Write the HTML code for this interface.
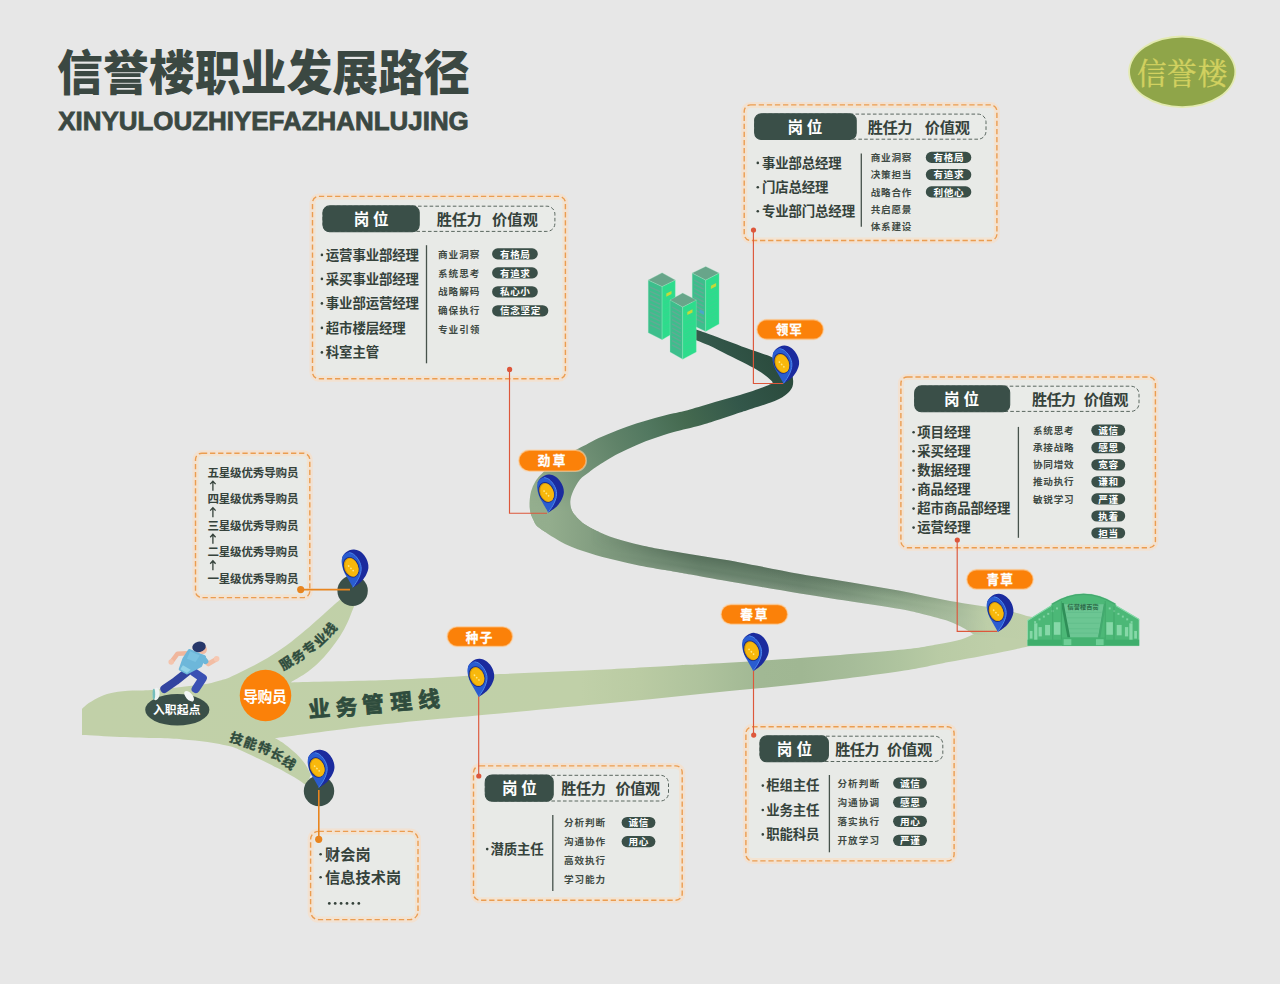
<!DOCTYPE html>
<html lang="zh-CN"><head><meta charset="utf-8"><title>信誉楼职业发展路径</title>
<style>
html,body{margin:0;padding:0;background:#e7e7e7;}
body{width:1280px;height:984px;overflow:hidden;font-family:"Liberation Sans",sans-serif;}
svg{display:block}
.t{font-family:"Liberation Sans","Noto Sans CJK SC",sans-serif;font-weight:700}
</style></head><body>
<svg width="1280" height="984" viewBox="0 0 1280 984">
<rect width="1280" height="984" fill="#e7e7e7"/>
<defs>
<linearGradient id="gA" gradientUnits="userSpaceOnUse" x1="82" y1="0" x2="1035" y2="0">
<stop offset="0" stop-color="#c1d0a8"/><stop offset=".523" stop-color="#c0d0a8"/><stop offset=".585" stop-color="#bacba3"/><stop offset=".648" stop-color="#afc39d"/><stop offset=".711" stop-color="#a1b894"/><stop offset=".755" stop-color="#a0b793"/><stop offset=".806" stop-color="#a6bc99"/><stop offset=".858" stop-color="#afc49f"/><stop offset=".9" stop-color="#b9cba5"/><stop offset=".96" stop-color="#bfcfa9"/></linearGradient>
<linearGradient id="gB1" gradientUnits="userSpaceOnUse" x1="529" y1="0" x2="1035" y2="0">
<stop offset="0" stop-color="#94ae8e"/><stop offset=".04" stop-color="#93ad8d"/><stop offset=".148" stop-color="#7f9a7e"/><stop offset=".24" stop-color="#718b73"/><stop offset=".338" stop-color="#66806a"/><stop offset=".536" stop-color="#6a836d"/><stop offset=".634" stop-color="#7a937a"/><stop offset=".704" stop-color="#8ba488"/><stop offset=".773" stop-color="#97ae90"/><stop offset=".832" stop-color="#a3b899"/><stop offset=".87" stop-color="#b0c3a1"/><stop offset=".905" stop-color="#bdcea8"/><stop offset="1" stop-color="#bfcfa9"/></linearGradient>
<linearGradient id="gB2" gradientUnits="userSpaceOnUse" x1="535" y1="510" x2="790" y2="385">
<stop offset="0" stop-color="#94ae8e"/><stop offset=".06" stop-color="#8fa98a"/><stop offset=".244" stop-color="#6f8f74"/><stop offset=".365" stop-color="#5f8268"/><stop offset=".48" stop-color="#527860"/><stop offset=".62" stop-color="#44694f"/><stop offset=".81" stop-color="#33574a"/><stop offset="1" stop-color="#2b4b3d"/></linearGradient>
<clipPath id="cB"><path d="M1035 617.5C1033.5 617.2 1031.83 617.12 1026 615.7C1020.17 614.28 1012.67 611.43 1000 609C987.33 606.57 966.67 604.13 950 601.1C933.33 598.07 916.67 593.93 900 590.8C883.33 587.67 866.67 585.1 850 582.3C833.33 579.5 818.33 577.32 800 574C781.67 570.68 756.67 565.44 740 562.4C723.33 559.36 712.5 557.8 700 555.75C687.5 553.7 675 551.88 665 550.1C655 548.33 648.33 547.08 640 545.1C631.67 543.12 622.29 540.64 615 538.25C607.71 535.86 601.25 533.04 596.25 530.75C591.25 528.46 588.23 526.73 585 524.5C581.77 522.27 579.1 519.77 576.9 517.4C574.7 515.03 572.9 513.02 571.8 510.3C570.7 507.58 570.07 504.32 570.3 501.1C570.53 497.88 571.58 494.62 573.2 491C574.82 487.38 577.3 482.58 580 479.4C582.7 476.22 586.27 474.25 589.4 471.9C592.52 469.55 594.07 468.27 598.75 465.3C603.43 462.33 611.25 457.45 617.5 454.1C623.75 450.75 630 447.87 636.25 445.2C642.5 442.53 648.75 440.3 655 438.1C661.25 435.9 666.25 434.1 673.75 432C681.25 429.9 692.71 427.5 700 425.5C707.29 423.5 710.83 422.17 717.5 420C724.17 417.83 734.17 414.43 740 412.5C745.83 410.57 747.5 410.02 752.5 408.4C757.5 406.78 765.75 404.28 770 402.8C774.25 401.32 775.71 400.58 778 399.5C780.29 398.42 781.85 397.63 783.75 396.3C785.65 394.97 787.94 393.13 789.4 391.5C790.86 389.87 791.88 388.42 792.5 386.5C793.12 384.58 793.31 382.33 793.1 380C792.89 377.67 792.81 375.17 791.25 372.5C789.69 369.83 786.88 366.5 783.75 364C780.62 361.5 776.25 359.28 772.5 357.5C768.75 355.72 765.62 354.87 761.25 353.3C756.88 351.73 751.88 350.13 746.25 348.1C740.62 346.07 733.75 343.43 727.5 341.1C721.25 338.77 714 336.02 708.75 334.1C703.5 332.18 698.12 330.35 696 329.6L696 340.2C698.12 341.05 703.5 342.88 708.75 345.3C714 347.72 721.25 351.57 727.5 354.7C733.75 357.83 740.62 361.13 746.25 364.1C751.88 367.07 757.19 369.85 761.25 372.5C765.31 375.15 768.68 378.28 770.6 380C772.52 381.72 772.43 382.33 772.8 382.8L772.8 382.8C771.5 383.43 770.47 384.57 765 386.6C759.53 388.63 748.33 392.45 740 395C731.67 397.55 723.33 399.5 715 401.9C706.67 404.3 696.88 407.5 690 409.4C683.12 411.3 679.58 411.87 673.75 413.3C667.92 414.73 661.25 416.28 655 418C648.75 419.72 642.5 421.57 636.25 423.6C630 425.63 623.75 427.78 617.5 430.2C611.25 432.62 603.98 435.68 598.75 438.1C593.52 440.52 590.08 442.67 586.1 444.7C582.12 446.73 579.75 447.65 574.9 450.3C570.05 452.95 562.52 456.7 557 460.6C551.48 464.5 545.43 470.17 541.8 473.7C538.17 477.23 536.97 478.92 535.2 481.8C533.43 484.68 532.12 487.78 531.2 491C530.28 494.22 529.87 497.72 529.7 501.1C529.53 504.48 529.62 508.25 530.2 511.3C530.78 514.35 531.65 516.62 533.2 519.4C534.75 522.18 534.2 523.92 539.5 528C544.8 532.08 556.58 539.69 565 543.9C573.42 548.11 581.67 550.55 590 553.25C598.33 555.95 606.67 558.02 615 560.1C623.33 562.18 631.67 564.08 640 565.75C648.33 567.42 658.33 568.93 665 570.1C671.67 571.27 674.17 571.78 680 572.8C685.83 573.82 690 574.45 700 576.2C710 577.95 723.33 580.43 740 583.3C756.67 586.17 781.67 590.42 800 593.4C818.33 596.38 833.33 598.6 850 601.2C866.67 603.8 887.6 606.78 900 609C912.4 611.22 916.27 612.47 924.4 614.5C932.53 616.53 942.3 618.97 948.8 621.2C955.3 623.43 959.33 625.77 963.4 627.9C967.47 630.03 971.57 632.98 973.2 634L1035 640Z"/></clipPath>
</defs>
<path d="M82 709C83.12 708.02 85.54 705.23 88.75 703.1C91.96 700.98 97.08 698.02 101.25 696.25C105.42 694.48 108.54 693.44 113.75 692.5C118.96 691.56 126.25 691.02 132.5 690.6C138.75 690.18 142.5 690.68 151.25 690C160 689.32 175.62 687.54 185 686.5C194.38 685.46 201.67 684.73 207.5 683.75C213.33 682.77 216.25 681.68 220 680.6C223.75 679.52 225.2 679.38 230 677.3C234.8 675.22 242.55 671.3 248.8 668.1C255.05 664.9 261.25 661.85 267.5 658.1C273.75 654.35 280.05 650.18 286.3 645.6C292.55 641.02 299.38 635.28 305 630.6C310.62 625.92 315.42 621.55 320 617.5C324.58 613.45 328.83 609.55 332.5 606.3C336.17 603.05 340.42 599.38 342 598L357 600C356.35 601.47 354.68 605.05 353.1 608.8C351.52 612.55 349.68 617.92 347.5 622.5C345.32 627.08 342.92 631.72 340 636.3C337.08 640.88 333.75 645.42 330 650C326.25 654.58 321.67 659.83 317.5 663.8C313.33 667.77 309.37 670.77 305 673.8C300.63 676.83 293.58 680.63 291.3 682L291.3 682.4C306.08 682.05 355.22 681.1 380 680.3C404.78 679.5 420 678.63 440 677.6C460 676.57 473.33 675.42 500 674.1C526.67 672.78 570 671.18 600 669.7C630 668.22 663.33 666.12 680 665.2C696.67 664.28 680 665.4 700 664.2C720 663 766.67 660.4 800 658C833.33 655.6 877.23 652.07 900 649.8C922.77 647.53 926.43 646.12 936.6 644.4C946.77 642.68 954.9 641.18 961 639.5C967.1 637.82 971.17 635.17 973.2 634.3L1035 622C1035 625.83 1035 641.17 1035 645L1035 645C1033.63 645.3 1033.03 645.48 1026.8 646.8C1020.57 648.12 1010.6 650.35 997.6 652.9C984.6 655.45 965.07 659.03 948.8 662.1C932.53 665.17 924.8 667.65 900 671.3C875.2 674.95 833.33 680.23 800 684C766.67 687.77 733.33 690.55 700 693.9C666.67 697.25 633.33 700.85 600 704.1C566.67 707.35 526.67 710.95 500 713.4C473.33 715.85 460 716.9 440 718.8C420 720.7 395 723.22 380 724.8C365 726.38 362.92 726.7 350 728.3C337.08 729.9 315 732.77 302.5 734.4C290 736.03 279.58 737.48 275 738.1L275 738.1C276.67 739.15 281.45 741.78 285 744.4C288.55 747.02 292.97 750.57 296.3 753.8C299.63 757.03 302.55 760.27 305 763.8C307.45 767.33 310 773.13 311 775L306 785C303.75 783.55 297.25 779.12 292.5 776.3C287.75 773.48 283.12 771.02 277.5 768.1C271.88 765.18 264.87 761.73 258.8 758.8C252.73 755.87 245.9 752.59 241.1 750.5C236.3 748.41 235.6 747.68 230 746.25C224.4 744.82 215.42 743.04 207.5 741.9C199.58 740.76 190.83 740.03 182.5 739.4C174.17 738.77 167.92 738.52 157.5 738.1C147.08 737.68 132.58 737.42 120 736.9C107.42 736.38 88.33 735.32 82 735Z" fill="url(#gA)"/>
<defs>
<linearGradient id="mV" gradientUnits="userSpaceOnUse" x1="0" y1="494" x2="0" y2="513"><stop offset="0" stop-color="#fff" stop-opacity="0"/><stop offset="1" stop-color="#fff"/></linearGradient>
<mask id="mB1" maskUnits="userSpaceOnUse" x="520" y="490" width="520" height="170"><rect x="520" y="490" width="520" height="170" fill="url(#mV)"/></mask>
<linearGradient id="gX" gradientUnits="userSpaceOnUse" x1="800" y1="573" x2="796.6" y2="593.5"><stop offset="0" stop-color="#1d3326" stop-opacity=".2"/><stop offset=".45" stop-color="#1d3326" stop-opacity="0"/><stop offset=".6" stop-color="#fff" stop-opacity="0"/><stop offset="1" stop-color="#e8f2d8" stop-opacity=".16"/></linearGradient>
<linearGradient id="mH" gradientUnits="userSpaceOnUse" x1="590" y1="0" x2="680" y2="0"><stop offset="0" stop-color="#fff" stop-opacity="0"/><stop offset="1" stop-color="#fff"/></linearGradient>
<linearGradient id="mH2" gradientUnits="userSpaceOnUse" x1="900" y1="0" x2="990" y2="0"><stop offset="0" stop-color="#000" stop-opacity="0"/><stop offset="1" stop-color="#000"/></linearGradient>
<mask id="mX" maskUnits="userSpaceOnUse" x="580" y="500" width="460" height="160"><rect x="580" y="500" width="460" height="160" fill="url(#mH)"/><rect x="580" y="500" width="460" height="160" fill="url(#mH2)"/></mask>
</defs>
<g clip-path="url(#cB)"><rect x="520" y="300" width="300" height="232" fill="url(#gB2)"/><rect x="520" y="490" width="520" height="170" fill="url(#gB1)" mask="url(#mB1)"/><rect x="580" y="500" width="460" height="160" fill="url(#gX)" mask="url(#mX)"/></g>
<g><path d="M1027.58 645.7L1027.58 620.22L1051.09 605.56L1051.64 603.81Q1083.58 583.69 1115.62 603.81L1116.17 605.56L1139.14 619.12L1139.14 645.7Z" fill="#4cb877" stroke="#9ee0b8" stroke-width="1" stroke-opacity=".7"/><polygon points="1063.12,604.14 1104.14,604.14 1098.12,637.5 1069.69,637.5" fill="#6cc693"/><polygon points="1060.94,603.05 1063.67,603.05 1070.23,637.5 1067.5,637.5" fill="#2f8f58"/><rect x="1027.58" y="639.69" width="111.56" height="6.02" fill="#3fae6c"/><rect x="1062.03" y="637.5" width="42.66" height="8.2" fill="#45b271"/><rect x="1063.67" y="639.14" width="7.66" height="6.02" fill="#6fcf97"/><rect x="1095.94" y="639.14" width="7.66" height="6.02" fill="#6fcf97"/><rect x="1029.77" y="630.94" width="2.73" height="7.66" fill="#86d8a8"/><rect x="1134.22" y="630.94" width="2.73" height="7.66" fill="#86d8a8"/><rect x="1034.14" y="623.28" width="3.28" height="16.41" fill="#86d8a8"/><rect x="1129.3" y="623.28" width="3.28" height="16.41" fill="#86d8a8"/><rect x="1038.52" y="627.11" width="3.28" height="9.3" fill="#86d8a8"/><rect x="1124.92" y="627.11" width="3.28" height="9.3" fill="#86d8a8"/><rect x="1045.08" y="624.92" width="4.92" height="10.39" fill="#86d8a8"/><rect x="1116.72" y="624.92" width="4.92" height="10.39" fill="#86d8a8"/><rect x="1053.83" y="622.19" width="6.56" height="12.58" fill="#86d8a8"/><rect x="1106.33" y="622.19" width="6.56" height="12.58" fill="#86d8a8"/><rect x="1034.14" y="621.09" width="1.97" height="1.97" fill="#7fd3a2"/><rect x="1130.61" y="621.09" width="1.97" height="1.97" fill="#7fd3a2"/><rect x="1038.52" y="618.36" width="1.97" height="1.97" fill="#7fd3a2"/><rect x="1126.23" y="618.36" width="1.97" height="1.97" fill="#7fd3a2"/><rect x="1042.89" y="615.62" width="1.97" height="1.97" fill="#7fd3a2"/><rect x="1121.86" y="615.62" width="1.97" height="1.97" fill="#7fd3a2"/><rect x="1047.27" y="612.89" width="1.97" height="1.97" fill="#7fd3a2"/><rect x="1117.48" y="612.89" width="1.97" height="1.97" fill="#7fd3a2"/><rect x="1051.64" y="610.16" width="1.97" height="1.97" fill="#7fd3a2"/><rect x="1113.11" y="610.16" width="1.97" height="1.97" fill="#7fd3a2"/><rect x="1056.01" y="607.42" width="1.97" height="1.97" fill="#7fd3a2"/><rect x="1108.73" y="607.42" width="1.97" height="1.97" fill="#7fd3a2"/><path d="M1027.58 620.66L1051.09 606M1116.17 606L1139.14 619.56" stroke="#86d9a9" stroke-width="1" fill="none"/><path d="M1051.97 604.25Q1083.58 584.56 1115.3 604.25" stroke="#43a86e" stroke-width="1.2" fill="none"/><polygon points="1103.81,603.81 1106,603.81 1100.31,637.5 1098.12,637.5" fill="#43aa6f"/><path d="M1065.74 612.34H1101.66" stroke="#5fbb88" stroke-width=".7"/><path d="M1066.81 617.81H1100.67" stroke="#5fbb88" stroke-width=".7"/><path d="M1067.89 623.28H1099.69" stroke="#5fbb88" stroke-width=".7"/><path d="M1068.97 628.75H1098.7" stroke="#5fbb88" stroke-width=".7"/><path d="M1069.83 633.12H1097.91" stroke="#5fbb88" stroke-width=".7"/><path d="M1052.73 606.55V639.69" stroke="#3fa76a" stroke-width=".9"/><path d="M1113.98 606.55V639.69" stroke="#3fa76a" stroke-width=".9"/><path d="M1061.48 601.09V639.69" stroke="#3fa76a" stroke-width=".9"/><path d="M1105.23 601.09V639.69" stroke="#3fa76a" stroke-width=".9"/><rect x="1067.5" y="603.81" width="31.72" height="5.25" fill="#5dbd87"/></g>
<text class="t" x="1067.58" y="608.56" font-size="6.2" fill="#2c6b48">信誉楼百货</text>
<g stroke="#a6efc9" stroke-width=".7" stroke-opacity=".4"><polygon points="692.2,273.1 705.7,280.1 705.7,331.5 692.2,325.1" fill="#3dbe8c"/><polygon points="705.7,280.1 719.1,273.1 719.1,323.9 705.7,331.5" fill="#2ddc8c"/><polygon points="705.7,266.4 719.1,273.1 705.7,280.1 692.2,273.1" fill="#68a58a"/></g><g stroke="#6ba697" stroke-width="1.4" opacity=".8"><path d="M694.2 280.1L703.7 285.03"/><path d="M694.2 284.3L703.7 289.23"/><path d="M694.2 288.5L703.7 293.43"/><path d="M694.2 292.7L703.7 297.63"/><path d="M694.2 296.9L703.7 301.83"/><path d="M694.2 301.1L703.7 306.03"/><path d="M694.2 305.3L703.7 310.23"/><path d="M694.2 309.5L703.7 314.43"/><path d="M694.2 313.7L703.7 318.63"/><path d="M694.2 317.9L703.7 322.83"/></g><g stroke="#3fd092" stroke-width="1" opacity=".6"><path d="M707.7 286.1L717.1 281.14"/><path d="M707.7 290.3L717.1 285.34"/><path d="M707.7 294.5L717.1 289.54"/><path d="M707.7 298.7L717.1 293.74"/><path d="M707.7 302.9L717.1 297.94"/><path d="M707.7 307.1L717.1 302.14"/><path d="M707.7 311.3L717.1 306.34"/><path d="M707.7 315.5L717.1 310.54"/><path d="M707.7 319.7L717.1 314.74"/><path d="M707.7 323.9L717.1 318.94"/></g><rect x="710.9" y="284.4" width="5.2" height="3.2" fill="#c4d93a" transform="translate(713.5 286) skewY(-27) translate(-713.5 -286)"/><rect x="699.6" y="310.29999999999995" width="4.4" height="3.2" fill="#4aa6c9" transform="translate(701.6 311.9) skewY(27) translate(-701.6 -311.9)"/>
<g stroke="#a6efc9" stroke-width=".7" stroke-opacity=".4"><polygon points="648.2,280.1 662.1,286.5 662.1,339.7 648.2,332.7" fill="#3dbe8c"/><polygon points="662.1,286.5 675.3,280.1 675.3,332.1 662.1,339.7" fill="#2ddc8c"/><polygon points="662.1,272.8 675.3,280.1 662.1,286.5 648.2,280.1" fill="#68a58a"/></g><g stroke="#6ba697" stroke-width="1.4" opacity=".8"><path d="M650.2 287.1L660.1 291.66"/><path d="M650.2 291.3L660.1 295.86"/><path d="M650.2 295.5L660.1 300.06"/><path d="M650.2 299.7L660.1 304.26"/><path d="M650.2 303.9L660.1 308.46"/><path d="M650.2 308.1L660.1 312.66"/><path d="M650.2 312.3L660.1 316.86"/><path d="M650.2 316.5L660.1 321.06"/><path d="M650.2 320.7L660.1 325.26"/><path d="M650.2 324.9L660.1 329.46"/></g><g stroke="#3fd092" stroke-width="1" opacity=".6"><path d="M664.1 292.5L673.3 288.07"/><path d="M664.1 296.7L673.3 292.27"/><path d="M664.1 300.9L673.3 296.47"/><path d="M664.1 305.1L673.3 300.67"/><path d="M664.1 309.3L673.3 304.87"/><path d="M664.1 313.5L673.3 309.07"/><path d="M664.1 317.7L673.3 313.27"/><path d="M664.1 321.9L673.3 317.47"/><path d="M664.1 326.1L673.3 321.67"/><path d="M664.1 330.3L673.3 325.87"/></g><rect x="666.3" y="292.2" width="5.2" height="3.2" fill="#c4d93a" transform="translate(668.9 293.8) skewY(-27) translate(-668.9 -293.8)"/>
<g stroke="#a6efc9" stroke-width=".7" stroke-opacity=".4"><polygon points="670,300 682.7,307 682.7,359.3 670,352" fill="#3dbe8c"/><polygon points="682.7,307 696.3,300 696.3,352 682.7,359.3" fill="#2ddc8c"/><polygon points="682.7,293 696.3,300 682.7,307 670,300" fill="#68a58a"/></g><g stroke="#6ba697" stroke-width="1.4" opacity=".8"><path d="M672 307L680.7 311.8"/><path d="M672 311.2L680.7 316"/><path d="M672 315.4L680.7 320.2"/><path d="M672 319.6L680.7 324.4"/><path d="M672 323.8L680.7 328.6"/><path d="M672 328L680.7 332.8"/><path d="M672 332.2L680.7 337"/><path d="M672 336.4L680.7 341.2"/><path d="M672 340.6L680.7 345.4"/><path d="M672 344.8L680.7 349.6"/></g><g stroke="#3fd092" stroke-width="1" opacity=".6"><path d="M684.7 313L694.3 308.03"/><path d="M684.7 317.2L694.3 312.23"/><path d="M684.7 321.4L694.3 316.43"/><path d="M684.7 325.6L694.3 320.63"/><path d="M684.7 329.8L694.3 324.83"/><path d="M684.7 334L694.3 329.03"/><path d="M684.7 338.2L694.3 333.23"/><path d="M684.7 342.4L694.3 337.43"/><path d="M684.7 346.6L694.3 341.63"/><path d="M684.7 350.8L694.3 345.83"/></g><rect x="687.3" y="310.59999999999997" width="5.2" height="3.2" fill="#c4d93a" transform="translate(689.9 312.2) skewY(-27) translate(-689.9 -312.2)"/>
<rect x="312.5" y="196.4" width="252.9" height="182.4" rx="6.4" fill="#e8eae7" stroke="#fbdcc0" stroke-width="6" stroke-opacity=".55"/>
<rect x="312.5" y="196.4" width="252.9" height="182.4" rx="6.4" fill="none" stroke="#eb9d50" stroke-width="1.4" stroke-dasharray="5.3 2.8"/>
<rect x="323" y="206.2" width="231.9" height="25.2" rx="8" fill="#e9ebe8" stroke="#59665f" stroke-width="1" stroke-dasharray="3.6 2.2"/>
<rect x="323" y="205.9" width="96.2" height="25.8" rx="6.6" fill="#3a4f48" stroke="#3a4f48" stroke-width="1.1"/>
<text class="t" x="353.85" y="224.93" font-size="15.6" letter-spacing="3.5" fill="#fff">岗位</text>
<text class="t" x="436.87" y="224.88" font-size="15.2" letter-spacing="-0.4" fill="#35423b">胜任力</text>
<text class="t" x="491.97" y="224.88" font-size="15.2" letter-spacing="0.2" fill="#35423b">价值观</text>
<circle cx="321.9" cy="254.9" r="1.3" fill="#35423b"/>
<text class="t" x="325.83" y="259.69" font-size="13.4" letter-spacing="-0.1" fill="#35423b">运营事业部经理</text>
<circle cx="321.9" cy="278.9" r="1.3" fill="#35423b"/>
<text class="t" x="325.83" y="283.69" font-size="13.4" letter-spacing="-0.1" fill="#35423b">采买事业部经理</text>
<circle cx="321.9" cy="303.4" r="1.3" fill="#35423b"/>
<text class="t" x="325.83" y="308.19" font-size="13.4" letter-spacing="-0.1" fill="#35423b">事业部运营经理</text>
<circle cx="321.9" cy="327.9" r="1.3" fill="#35423b"/>
<text class="t" x="325.83" y="332.69" font-size="13.4" letter-spacing="-0.1" fill="#35423b">超市楼层经理</text>
<circle cx="321.9" cy="352.4" r="1.3" fill="#35423b"/>
<text class="t" x="325.83" y="357.19" font-size="13.4" letter-spacing="-0.1" fill="#35423b">科室主管</text>
<path d="M426.5 245.2V363.3" stroke="#46524b" stroke-width="1.3"/>
<text class="t" x="437.96" y="257.55" font-size="9.6" letter-spacing="1" fill="#3f4a44">商业洞察</text>
<text class="t" x="437.96" y="276.55" font-size="9.6" letter-spacing="1" fill="#3f4a44">系统思考</text>
<text class="t" x="437.96" y="295.45" font-size="9.6" letter-spacing="1" fill="#3f4a44">战略解码</text>
<text class="t" x="437.96" y="314.45" font-size="9.6" letter-spacing="1" fill="#3f4a44">确保执行</text>
<text class="t" x="437.96" y="333.45" font-size="9.6" letter-spacing="1" fill="#3f4a44">专业引领</text>
<rect x="492.1" y="248.3" width="45.7" height="11.2" rx="5.6" fill="#3a4f48"/>
<text class="t" x="499.96" y="257.55" font-size="9.6" letter-spacing="0.6" fill="#fff">有格局</text>
<rect x="492.1" y="267.3" width="45.7" height="11.2" rx="5.6" fill="#3a4f48"/>
<text class="t" x="499.96" y="276.55" font-size="9.6" letter-spacing="0.6" fill="#fff">有追求</text>
<rect x="492.1" y="286.2" width="45.7" height="11.2" rx="5.6" fill="#3a4f48"/>
<text class="t" x="499.96" y="295.45" font-size="9.6" letter-spacing="0.6" fill="#fff">私心小</text>
<rect x="492.1" y="305.2" width="56.2" height="11.2" rx="5.6" fill="#3a4f48"/>
<text class="t" x="500.11" y="314.45" font-size="9.6" letter-spacing="0.6" fill="#fff">信念坚定</text>
<rect x="744.2" y="104.9" width="252.7" height="135.6" rx="6.4" fill="#e8eae7" stroke="#fbdcc0" stroke-width="6" stroke-opacity=".55"/>
<rect x="744.2" y="104.9" width="252.7" height="135.6" rx="6.4" fill="none" stroke="#eb9d50" stroke-width="1.4" stroke-dasharray="5.3 2.8"/>
<rect x="754.7" y="114.1" width="231.3" height="25.1" rx="8" fill="#e9ebe8" stroke="#59665f" stroke-width="1" stroke-dasharray="3.6 2.2"/>
<rect x="754.7" y="113.8" width="101.5" height="25.7" rx="6.6" fill="#3a4f48" stroke="#3a4f48" stroke-width="1.1"/>
<text class="t" x="787.6" y="132.78" font-size="15.6" letter-spacing="3.55" fill="#fff">岗位</text>
<text class="t" x="867.77" y="132.73" font-size="15.2" letter-spacing="-0.4" fill="#35423b">胜任力</text>
<text class="t" x="924.87" y="132.73" font-size="15.2" letter-spacing="-0.2" fill="#35423b">价值观</text>
<circle cx="757.8" cy="162.9" r="1.3" fill="#35423b"/>
<text class="t" x="761.93" y="167.69" font-size="13.4" letter-spacing="-0.1" fill="#35423b">事业部总经理</text>
<circle cx="757.8" cy="187.2" r="1.3" fill="#35423b"/>
<text class="t" x="761.93" y="191.99" font-size="13.4" letter-spacing="-0.1" fill="#35423b">门店总经理</text>
<circle cx="757.8" cy="211.3" r="1.3" fill="#35423b"/>
<text class="t" x="761.93" y="216.09" font-size="13.4" letter-spacing="-0.1" fill="#35423b">专业部门总经理</text>
<path d="M861.3 153.4V226.7" stroke="#46524b" stroke-width="1.3"/>
<text class="t" x="870.76" y="161.05" font-size="9.6" letter-spacing="0.76" fill="#3f4a44">商业洞察</text>
<text class="t" x="870.76" y="178.35" font-size="9.6" letter-spacing="0.76" fill="#3f4a44">决策担当</text>
<text class="t" x="870.76" y="195.55" font-size="9.6" letter-spacing="0.76" fill="#3f4a44">战略合作</text>
<text class="t" x="870.76" y="212.85" font-size="9.6" letter-spacing="0.76" fill="#3f4a44">共启愿景</text>
<text class="t" x="870.76" y="230.15" font-size="9.6" letter-spacing="0.76" fill="#3f4a44">体系建设</text>
<rect x="925.8" y="151.8" width="45.5" height="11.2" rx="5.6" fill="#3a4f48"/>
<text class="t" x="933.56" y="161.05" font-size="9.6" letter-spacing="0.6" fill="#fff">有格局</text>
<rect x="925.8" y="169.1" width="45.5" height="11.2" rx="5.6" fill="#3a4f48"/>
<text class="t" x="933.56" y="178.35" font-size="9.6" letter-spacing="0.6" fill="#fff">有追求</text>
<rect x="925.8" y="186.3" width="45.5" height="11.2" rx="5.6" fill="#3a4f48"/>
<text class="t" x="933.56" y="195.55" font-size="9.6" letter-spacing="0.6" fill="#fff">利他心</text>
<rect x="900.9" y="377" width="254.5" height="170.7" rx="6.4" fill="#e8eae7" stroke="#fbdcc0" stroke-width="6" stroke-opacity=".55"/>
<rect x="900.9" y="377" width="254.5" height="170.7" rx="6.4" fill="none" stroke="#eb9d50" stroke-width="1.4" stroke-dasharray="5.3 2.8"/>
<rect x="914.7" y="386.2" width="224.3" height="25.2" rx="8" fill="#e9ebe8" stroke="#59665f" stroke-width="1" stroke-dasharray="3.6 2.2"/>
<rect x="914.7" y="385.9" width="95" height="25.8" rx="6.6" fill="#3a4f48" stroke="#3a4f48" stroke-width="1.1"/>
<text class="t" x="944" y="404.93" font-size="15.6" letter-spacing="3.9" fill="#fff">岗位</text>
<text class="t" x="1032.07" y="404.88" font-size="15.2" letter-spacing="-0.8" fill="#35423b">胜任力</text>
<text class="t" x="1083.77" y="404.88" font-size="15.2" letter-spacing="-0.4" fill="#35423b">价值观</text>
<circle cx="913.6" cy="432.2" r="1.3" fill="#35423b"/>
<text class="t" x="917.33" y="436.99" font-size="13.4" letter-spacing="-0.1" fill="#35423b">项目经理</text>
<circle cx="913.6" cy="451.3" r="1.3" fill="#35423b"/>
<text class="t" x="917.33" y="456.09" font-size="13.4" letter-spacing="-0.1" fill="#35423b">采买经理</text>
<circle cx="913.6" cy="470.5" r="1.3" fill="#35423b"/>
<text class="t" x="917.33" y="475.29" font-size="13.4" letter-spacing="-0.1" fill="#35423b">数据经理</text>
<circle cx="913.6" cy="489.6" r="1.3" fill="#35423b"/>
<text class="t" x="917.33" y="494.39" font-size="13.4" letter-spacing="-0.1" fill="#35423b">商品经理</text>
<circle cx="913.6" cy="508.6" r="1.3" fill="#35423b"/>
<text class="t" x="917.33" y="513.39" font-size="13.4" letter-spacing="-0.1" fill="#35423b">超市商品部经理</text>
<circle cx="913.6" cy="527.6" r="1.3" fill="#35423b"/>
<text class="t" x="917.33" y="532.39" font-size="13.4" letter-spacing="-0.1" fill="#35423b">运营经理</text>
<path d="M1018.4 426.9V537.8" stroke="#46524b" stroke-width="1.3"/>
<text class="t" x="1032.96" y="433.85" font-size="9.6" letter-spacing="0.76" fill="#3f4a44">系统思考</text>
<text class="t" x="1032.96" y="451.35" font-size="9.6" letter-spacing="0.76" fill="#3f4a44">承接战略</text>
<text class="t" x="1032.96" y="468.45" font-size="9.6" letter-spacing="0.76" fill="#3f4a44">协同增效</text>
<text class="t" x="1032.96" y="485.45" font-size="9.6" letter-spacing="0.76" fill="#3f4a44">推动执行</text>
<text class="t" x="1032.96" y="502.55" font-size="9.6" letter-spacing="0.76" fill="#3f4a44">敏锐学习</text>
<rect x="1091.3" y="424.6" width="33.9" height="11.2" rx="5.6" fill="#3a4f48"/>
<text class="t" x="1098.36" y="433.85" font-size="9.6" letter-spacing="0.6" fill="#fff">诚信</text>
<rect x="1091.3" y="442.1" width="33.9" height="11.2" rx="5.6" fill="#3a4f48"/>
<text class="t" x="1098.36" y="451.35" font-size="9.6" letter-spacing="0.6" fill="#fff">感恩</text>
<rect x="1091.3" y="459.2" width="33.9" height="11.2" rx="5.6" fill="#3a4f48"/>
<text class="t" x="1098.36" y="468.45" font-size="9.6" letter-spacing="0.6" fill="#fff">宽容</text>
<rect x="1091.3" y="476.2" width="33.9" height="11.2" rx="5.6" fill="#3a4f48"/>
<text class="t" x="1098.36" y="485.45" font-size="9.6" letter-spacing="0.6" fill="#fff">谦和</text>
<rect x="1091.3" y="493.3" width="33.9" height="11.2" rx="5.6" fill="#3a4f48"/>
<text class="t" x="1098.36" y="502.55" font-size="9.6" letter-spacing="0.6" fill="#fff">严谨</text>
<rect x="1091.3" y="510.4" width="33.9" height="11.2" rx="5.6" fill="#3a4f48"/>
<text class="t" x="1098.36" y="519.65" font-size="9.6" letter-spacing="0.6" fill="#fff">执着</text>
<rect x="1091.3" y="527.4" width="33.9" height="11.2" rx="5.6" fill="#3a4f48"/>
<text class="t" x="1098.36" y="536.65" font-size="9.6" letter-spacing="0.6" fill="#fff">担当</text>
<rect x="745.9" y="726.8" width="208.2" height="134.1" rx="6.4" fill="#e8eae7" stroke="#fbdcc0" stroke-width="6" stroke-opacity=".55"/>
<rect x="745.9" y="726.8" width="208.2" height="134.1" rx="6.4" fill="none" stroke="#eb9d50" stroke-width="1.4" stroke-dasharray="5.3 2.8"/>
<rect x="760" y="736.2" width="182.8" height="25.3" rx="8" fill="#e9ebe8" stroke="#59665f" stroke-width="1" stroke-dasharray="3.6 2.2"/>
<rect x="760" y="735.9" width="68.4" height="25.9" rx="6.6" fill="#3a4f48" stroke="#3a4f48" stroke-width="1.1"/>
<text class="t" x="776.85" y="754.98" font-size="15.6" letter-spacing="4" fill="#fff">岗位</text>
<text class="t" x="835.37" y="754.93" font-size="15.2" letter-spacing="-0.7" fill="#35423b">胜任力</text>
<text class="t" x="886.97" y="754.93" font-size="15.2" letter-spacing="-0.2" fill="#35423b">价值观</text>
<circle cx="762.8" cy="785.6" r="1.3" fill="#35423b"/>
<text class="t" x="766.13" y="790.39" font-size="13.4" letter-spacing="-0.1" fill="#35423b">柜组主任</text>
<circle cx="762.8" cy="810" r="1.3" fill="#35423b"/>
<text class="t" x="766.13" y="814.79" font-size="13.4" letter-spacing="-0.1" fill="#35423b">业务主任</text>
<circle cx="762.8" cy="834.4" r="1.3" fill="#35423b"/>
<text class="t" x="766.13" y="839.19" font-size="13.4" letter-spacing="-0.1" fill="#35423b">职能科员</text>
<path d="M829.4 775V852.3" stroke="#46524b" stroke-width="1.3"/>
<text class="t" x="837.46" y="786.75" font-size="9.6" letter-spacing="1.06" fill="#3f4a44">分析判断</text>
<text class="t" x="837.46" y="805.85" font-size="9.6" letter-spacing="1.06" fill="#3f4a44">沟通协调</text>
<text class="t" x="837.46" y="824.95" font-size="9.6" letter-spacing="1.06" fill="#3f4a44">落实执行</text>
<text class="t" x="837.46" y="843.95" font-size="9.6" letter-spacing="1.06" fill="#3f4a44">开放学习</text>
<rect x="893.1" y="777.5" width="33.8" height="11.2" rx="5.6" fill="#3a4f48"/>
<text class="t" x="900.11" y="786.75" font-size="9.6" letter-spacing="0.6" fill="#fff">诚信</text>
<rect x="893.1" y="796.6" width="33.8" height="11.2" rx="5.6" fill="#3a4f48"/>
<text class="t" x="900.11" y="805.85" font-size="9.6" letter-spacing="0.6" fill="#fff">感恩</text>
<rect x="893.1" y="815.7" width="33.8" height="11.2" rx="5.6" fill="#3a4f48"/>
<text class="t" x="900.11" y="824.95" font-size="9.6" letter-spacing="0.6" fill="#fff">用心</text>
<rect x="893.1" y="834.7" width="33.8" height="11.2" rx="5.6" fill="#3a4f48"/>
<text class="t" x="900.11" y="843.95" font-size="9.6" letter-spacing="0.6" fill="#fff">严谨</text>
<rect x="473.5" y="765.9" width="208.7" height="134.4" rx="6.4" fill="#e8eae7" stroke="#fbdcc0" stroke-width="6" stroke-opacity=".55"/>
<rect x="473.5" y="765.9" width="208.7" height="134.4" rx="6.4" fill="none" stroke="#eb9d50" stroke-width="1.4" stroke-dasharray="5.3 2.8"/>
<rect x="485.3" y="775.3" width="183.2" height="25.7" rx="8" fill="#e9ebe8" stroke="#59665f" stroke-width="1" stroke-dasharray="3.6 2.2"/>
<rect x="485.3" y="775" width="67.9" height="26.3" rx="6.6" fill="#3a4f48" stroke="#3a4f48" stroke-width="1.1"/>
<text class="t" x="502.1" y="794.28" font-size="15.6" letter-spacing="3.45" fill="#fff">岗位</text>
<text class="t" x="561.27" y="794.23" font-size="15.2" letter-spacing="-0.5" fill="#35423b">胜任力</text>
<text class="t" x="615.47" y="794.23" font-size="15.2" letter-spacing="-0.4" fill="#35423b">价值观</text>
<circle cx="487.2" cy="849.1" r="1.3" fill="#35423b"/>
<text class="t" x="490.43" y="853.89" font-size="13.4" letter-spacing="-0.1" fill="#35423b">潜质主任</text>
<path d="M552.8 815V891" stroke="#46524b" stroke-width="1.3"/>
<text class="t" x="564.06" y="826.15" font-size="9.6" letter-spacing="0.89" fill="#3f4a44">分析判断</text>
<text class="t" x="564.06" y="845.25" font-size="9.6" letter-spacing="0.89" fill="#3f4a44">沟通协作</text>
<text class="t" x="564.06" y="864.25" font-size="9.6" letter-spacing="0.89" fill="#3f4a44">高效执行</text>
<text class="t" x="564.06" y="883.35" font-size="9.6" letter-spacing="0.89" fill="#3f4a44">学习能力</text>
<rect x="621.6" y="816.9" width="33.8" height="11.2" rx="5.6" fill="#3a4f48"/>
<text class="t" x="628.61" y="826.15" font-size="9.6" letter-spacing="0.6" fill="#fff">诚信</text>
<rect x="621.6" y="836" width="33.8" height="11.2" rx="5.6" fill="#3a4f48"/>
<text class="t" x="628.61" y="845.25" font-size="9.6" letter-spacing="0.6" fill="#fff">用心</text>
<rect x="195.5" y="453.2" width="114.3" height="144.4" rx="6.4" fill="#e8eae7" stroke="#fbdcc0" stroke-width="6" stroke-opacity=".55"/>
<rect x="195.5" y="453.2" width="114.3" height="144.4" rx="6.4" fill="none" stroke="#eb9d50" stroke-width="1.4" stroke-dasharray="5.3 2.8"/>
<text class="t" x="207.4" y="476.97" font-size="11.5" letter-spacing="-0.14" fill="#35423b">五星级优秀导购员</text>
<text class="t" x="207.4" y="503.47" font-size="11.5" letter-spacing="-0.14" fill="#35423b">四星级优秀导购员</text>
<text class="t" x="207.4" y="529.97" font-size="11.5" letter-spacing="-0.14" fill="#35423b">三星级优秀导购员</text>
<text class="t" x="207.4" y="556.47" font-size="11.5" letter-spacing="-0.14" fill="#35423b">二星级优秀导购员</text>
<text class="t" x="207.4" y="582.97" font-size="11.5" letter-spacing="-0.14" fill="#35423b">一星级优秀导购员</text>
<path d="M212.9 490.7V481.3M210.2 484.1L212.9 481.1L215.6 484.1" fill="none" stroke="#35423b" stroke-width="1.3"/>
<path d="M212.9 517.2V507.8M210.2 510.6L212.9 507.6L215.6 510.6" fill="none" stroke="#35423b" stroke-width="1.3"/>
<path d="M212.9 543.8V534.4M210.2 537.2L212.9 534.2L215.6 537.2" fill="none" stroke="#35423b" stroke-width="1.3"/>
<path d="M212.9 570.3V560.9M210.2 563.7L212.9 560.7L215.6 563.7" fill="none" stroke="#35423b" stroke-width="1.3"/>
<rect x="310.6" y="831.4" width="107.4" height="88.2" rx="8" fill="#e8eae7" stroke="#fbdcc0" stroke-width="6" stroke-opacity=".55"/>
<rect x="310.6" y="831.4" width="107.4" height="88.2" rx="8" fill="none" stroke="#eb9d50" stroke-width="1.4" stroke-dasharray="5.3 2.8"/>
<circle cx="320.6" cy="854.2" r="1.3" fill="#35423b"/>
<text class="t" x="324.97" y="859.68" font-size="15.2" letter-spacing="0.1" fill="#35423b">财会岗</text>
<circle cx="320.6" cy="877.2" r="1.3" fill="#35423b"/>
<text class="t" x="324.97" y="882.68" font-size="15.2" letter-spacing="0.1" fill="#35423b">信息技术岗</text>
<circle cx="329.3" cy="903.4" r="1.4" fill="#35423b"/>
<circle cx="335.2" cy="903.4" r="1.4" fill="#35423b"/>
<circle cx="341.1" cy="903.4" r="1.4" fill="#35423b"/>
<circle cx="347" cy="903.4" r="1.4" fill="#35423b"/>
<circle cx="352.9" cy="903.4" r="1.4" fill="#35423b"/>
<circle cx="358.8" cy="903.4" r="1.4" fill="#35423b"/>
<path d="M509.5 369.4L509.5 513.2L547 513.2" fill="none" stroke="#dd573b" stroke-width="1.15"/>
<circle cx="509.6" cy="369.4" r="2.6" fill="#dd573b"/>
<path d="M753.4 230L753.4 383.5L783 383.5" fill="none" stroke="#dd573b" stroke-width="1.15"/>
<circle cx="753.5" cy="230" r="2.6" fill="#dd573b"/>
<path d="M957.2 540L957.2 631.3L997.5 631.3" fill="none" stroke="#dd573b" stroke-width="1.15"/>
<circle cx="957.3" cy="540" r="2.6" fill="#dd573b"/>
<path d="M753.5 668L753.5 735" fill="none" stroke="#dd573b" stroke-width="1.15"/>
<circle cx="753.7" cy="735.1" r="2.6" fill="#dd573b"/>
<path d="M478.7 694L478.7 776" fill="none" stroke="#dd573b" stroke-width="1.15"/>
<circle cx="478.8" cy="776" r="2.6" fill="#dd573b"/>
<circle cx="352.6" cy="590.7" r="15.2" fill="#3a4f48"/>
<circle cx="319" cy="791" r="15.2" fill="#3a4f48"/>
<path d="M300.7 589.6L350 589.6" fill="none" stroke="#e8851f" stroke-width="1.6"/>
<circle cx="300.7" cy="589.6" r="3.6" fill="#e8851f"/>
<path d="M318.8 790L318.8 839.3" fill="none" stroke="#e8851f" stroke-width="1.6"/>
<circle cx="318.7" cy="839.3" r="3.6" fill="#e8851f"/>
<defs><g id="pin">
<path d="M0.3 0.2C1.05 -0.3 3.32 -1.67 4.8 -2.8C6.28 -3.93 7.75 -4.92 9.2 -6.6C10.65 -8.28 12.43 -10.78 13.5 -12.9C14.57 -15.02 15.38 -17.18 15.6 -19.3C15.82 -21.42 15.5 -23.48 14.8 -25.6C14.1 -27.72 12.77 -30.23 11.4 -32C10.03 -33.77 8.28 -35.23 6.6 -36.2C4.92 -37.17 2.97 -37.67 1.3 -37.8C-0.37 -37.93 -1.9 -37.6 -3.4 -37C-4.9 -36.4 -6.5 -35.37 -7.7 -34.2C-8.9 -33.03 -10.12 -30.7 -10.6 -30Z" fill="#1b2b9e"/>
<path d="M0 0C-0.83 -1.45 -3.5 -6.02 -5 -8.7C-6.5 -11.38 -7.98 -13.45 -9 -16.1C-10.02 -18.75 -10.88 -22.22 -11.1 -24.6C-11.32 -26.98 -10.87 -28.92 -10.3 -30.4C-9.73 -31.88 -8.75 -32.75 -7.7 -33.5C-6.65 -34.25 -5.42 -34.98 -4 -34.9C-2.58 -34.82 -0.78 -34.2 0.8 -33C2.38 -31.8 4.27 -29.72 5.5 -27.7C6.73 -25.68 7.83 -23.18 8.2 -20.9C8.57 -18.62 8.32 -16.38 7.7 -14C7.08 -11.62 5.78 -8.93 4.5 -6.6C3.22 -4.27 0.75 -1.1 0 0Z" fill="#2a5cd0"/>
<path d="M0 0C0.75 -1.1 3.22 -4.27 4.5 -6.6C5.78 -8.93 7.08 -11.62 7.7 -14C8.32 -16.38 8.57 -18.62 8.2 -20.9C7.83 -23.18 6.73 -25.68 5.5 -27.7C4.27 -29.72 2.38 -31.8 0.8 -33C-0.78 -34.2 -3.2 -34.58 -4 -34.9" fill="none" stroke="#4c86ec" stroke-width="1"/>
<ellipse cx="-1.7" cy="-20" rx="7.9" ry="10.6" transform="rotate(-22 -1.7 -20)" fill="#182a86"/>
<ellipse cx="-1.6" cy="-20" rx="7" ry="9.8" transform="rotate(-22 -1.6 -20)" fill="#d99c06"/>
<ellipse cx="-1.1" cy="-19.8" rx="6.3" ry="9.1" transform="rotate(-22 -1.1 -19.8)" fill="#f8b80c"/>
<path d="M-4.2-21.4L.4-16.6" stroke="#ffe680" stroke-width="1.7" stroke-linecap="round" stroke-dasharray=".2 3.1"/>
</g></defs>
<use href="#pin" x="352.8" y="587.3"/>
<use href="#pin" x="318.8" y="787.5"/>
<use href="#pin" x="478.6" y="696.6"/>
<use href="#pin" x="753.2" y="670.7"/>
<use href="#pin" x="997.8" y="631.6"/>
<use href="#pin" x="548.2" y="512.4"/>
<use href="#pin" x="783.5" y="383.4"/>
<rect x="447.1" y="626.7" width="65.6" height="19.8" rx="9.9" fill="#fb8109" stroke="#fbd3a8" stroke-width="1.6" stroke-opacity=".6"/>
<text class="t" x="465.86" y="641.59" font-size="12.6" letter-spacing="1.28" fill="#fff" stroke="#fff" stroke-width=".3">种子</text>
<rect x="721" y="604.4" width="66.7" height="19.8" rx="9.9" fill="#fb8109" stroke="#fbd3a8" stroke-width="1.6" stroke-opacity=".6"/>
<text class="t" x="740.36" y="619.39" font-size="12.6" letter-spacing="1.78" fill="#fff" stroke="#fff" stroke-width=".3">春草</text>
<rect x="966.7" y="569.6" width="66.6" height="19.7" rx="9.85" fill="#fb8109" stroke="#fbd3a8" stroke-width="1.6" stroke-opacity=".6"/>
<text class="t" x="986.56" y="584.49" font-size="12.6" letter-spacing="1.08" fill="#fff" stroke="#fff" stroke-width=".3">青草</text>
<rect x="518.7" y="450.1" width="67.5" height="21.1" rx="10.55" fill="#fb8109" stroke="#fbd3a8" stroke-width="1.6" stroke-opacity=".6"/>
<text class="t" x="537.76" y="465.49" font-size="12.6" letter-spacing="2.48" fill="#fff" stroke="#fff" stroke-width=".3">劲草</text>
<rect x="756.8" y="319.6" width="66.7" height="19.8" rx="9.9" fill="#fb8109" stroke="#fbd3a8" stroke-width="1.6" stroke-opacity=".6"/>
<text class="t" x="775.86" y="334.49" font-size="12.6" letter-spacing="0.88" fill="#fff" stroke="#fff" stroke-width=".3">领军</text>
<ellipse cx="177.3" cy="709.8" rx="32.1" ry="15.7" fill="#3a4f48"/>
<text class="t" x="152.89" y="714.28" font-size="11.8" letter-spacing="0.2" fill="#fff">入职起点</text>
<circle cx="265.5" cy="695.5" r="25.75" fill="#fb8109"/>
<text class="t" x="243.23" y="701.62" font-size="14.8" letter-spacing="-0.4" fill="#fff">导购员</text>
<text class="t" transform="translate(319.05 708.4) rotate(-4.9)" x="0" y="8.28" text-anchor="middle" font-size="21.8" fill="#2f4c3d" stroke="#2f4c3d" stroke-width=".78">业</text>
<text class="t" transform="translate(346.4 706.9) rotate(-4.9)" x="0" y="8.28" text-anchor="middle" font-size="21.8" fill="#2f4c3d" stroke="#2f4c3d" stroke-width=".78">务</text>
<text class="t" transform="translate(372.95 703.75) rotate(-4.9)" x="0" y="8.28" text-anchor="middle" font-size="21.8" fill="#2f4c3d" stroke="#2f4c3d" stroke-width=".78">管</text>
<text class="t" transform="translate(401.1 701.4) rotate(-4.9)" x="0" y="8.28" text-anchor="middle" font-size="21.8" fill="#2f4c3d" stroke="#2f4c3d" stroke-width=".78">理</text>
<text class="t" transform="translate(428.85 699) rotate(-4.9)" x="0" y="8.28" text-anchor="middle" font-size="21.8" fill="#2f4c3d" stroke="#2f4c3d" stroke-width=".78">线</text>
<text class="t" transform="translate(286 663) rotate(-33)" x="0" y="5.02" text-anchor="middle" font-size="13.2" fill="#2f4c3d" stroke="#2f4c3d" stroke-width=".37">服</text>
<text class="t" transform="translate(298.1 656.2) rotate(-36)" x="0" y="5.02" text-anchor="middle" font-size="13.2" fill="#2f4c3d" stroke="#2f4c3d" stroke-width=".37">务</text>
<text class="t" transform="translate(309.3 647.6) rotate(-39)" x="0" y="5.02" text-anchor="middle" font-size="13.2" fill="#2f4c3d" stroke="#2f4c3d" stroke-width=".37">专</text>
<text class="t" transform="translate(320.3 639.2) rotate(-43)" x="0" y="5.02" text-anchor="middle" font-size="13.2" fill="#2f4c3d" stroke="#2f4c3d" stroke-width=".37">业</text>
<text class="t" transform="translate(329.8 629.8) rotate(-49)" x="0" y="5.02" text-anchor="middle" font-size="13.2" fill="#2f4c3d" stroke="#2f4c3d" stroke-width=".37">线</text>
<text class="t" transform="translate(236.5 738.6) rotate(18)" x="0" y="5.02" text-anchor="middle" font-size="13.2" fill="#2f4c3d" stroke="#2f4c3d" stroke-width=".37">技</text>
<text class="t" transform="translate(250.4 743.1) rotate(19)" x="0" y="5.02" text-anchor="middle" font-size="13.2" fill="#2f4c3d" stroke="#2f4c3d" stroke-width=".37">能</text>
<text class="t" transform="translate(264.4 748.1) rotate(22)" x="0" y="5.02" text-anchor="middle" font-size="13.2" fill="#2f4c3d" stroke="#2f4c3d" stroke-width=".37">特</text>
<text class="t" transform="translate(277.1 754.6) rotate(28)" x="0" y="5.02" text-anchor="middle" font-size="13.2" fill="#2f4c3d" stroke="#2f4c3d" stroke-width=".37">长</text>
<text class="t" transform="translate(289.1 762.5) rotate(33)" x="0" y="5.02" text-anchor="middle" font-size="13.2" fill="#2f4c3d" stroke="#2f4c3d" stroke-width=".37">线</text>
<g><path d="M188.03 653.27L177.57 653.69L172.02 661.16" fill="none" stroke="#f0b69c" stroke-width="4.6" stroke-linecap="round" stroke-linejoin="round"/><circle cx="171.16" cy="662.02" r="2.7" fill="#f4c4ad"/><path d="M186.96 672.16L175.75 681.01L164.33 688.91" fill="none" stroke="#3244a0" stroke-width="8" stroke-linecap="round" stroke-linejoin="round"/><ellipse cx="156.22" cy="694.03" rx="3.4" ry="6.2" fill="#eef3f2" transform="rotate(8 156.22 694.03)"/><ellipse cx="153.87" cy="694.25" rx="1.3" ry="5.4" fill="#74bdbb"/><path d="M193.36 671.84L202.75 678.24L195.71 688.91" fill="none" stroke="#3a50b3" stroke-width="8.2" stroke-linecap="round" stroke-linejoin="round"/><ellipse cx="189.09" cy="696.17" rx="6.4" ry="3.3" fill="#f3f6f5" transform="rotate(48 189.09 696.17)"/><polygon points="189.31,650.28 204.67,656.68 200.83,665.75 186.96,673.22 180.02,669.27 183.76,658.6" fill="#6db7da" stroke="#6db7da" stroke-width="2.6" stroke-linejoin="round"/><polygon points="180.34,669.27 186.96,672.9 190.69,669.7 182.9,665.22" fill="#93d3e8"/><polygon points="190.16,651.34 199.77,655.4 195.5,662.02 186.96,658.82" fill="#7cc3e2"/><path d="M204.25 659.67L208.3 663.94L215.99 659.46" fill="none" stroke="#f2bda4" stroke-width="4.8" stroke-linecap="round" stroke-linejoin="round"/><circle cx="216.63" cy="658.82" r="2.8" fill="#f6c8b2"/><path d="M202.75 657.75L205.53 661.38" fill="none" stroke="#6db7da" stroke-width="5.6" stroke-linecap="round" stroke-linejoin="round"/><ellipse cx="202.75" cy="649.42" rx="4.2" ry="4.6" fill="#f0b9a0"/><ellipse cx="199.02" cy="646.86" rx="6.8" ry="5.2" fill="#27376a" transform="rotate(-12 199.02 646.86)"/></g>
<text class="t" x="57.11" y="90.29" font-size="47.6" style="font-weight:900" fill="#3b4842" textLength="412.9" lengthAdjust="spacingAndGlyphs">信誉楼职业发展路径</text>
<text x="58.2" y="129.6" font-family="Liberation Sans, sans-serif" font-weight="700" font-size="26.4" fill="#3b4842" stroke="#3b4842" stroke-width=".8" textLength="410.6" lengthAdjust="spacingAndGlyphs">XINYULOUZHIYEFAZHANLUJING</text>
<ellipse cx="1182.2" cy="71.8" rx="54" ry="36.2" fill="#e3eab0"/>
<ellipse cx="1182.2" cy="71.8" rx="52.2" ry="34.4" fill="#8fa549"/>
<text transform="translate(1151.8 72.6)" x="0" y="11.2" text-anchor="middle" font-size="29.5" style="font-family:'Liberation Serif','Noto Serif CJK SC',serif" fill="#d2d160" stroke="#d2d160" stroke-width=".35">信</text>
<text transform="translate(1181.8 72.6)" x="0" y="11.2" text-anchor="middle" font-size="29.5" style="font-family:'Liberation Serif','Noto Serif CJK SC',serif" fill="#d2d160" stroke="#d2d160" stroke-width=".35">誉</text>
<text transform="translate(1212.4 72.6)" x="0" y="11.2" text-anchor="middle" font-size="29.5" style="font-family:'Liberation Serif','Noto Serif CJK SC',serif" fill="#d2d160" stroke="#d2d160" stroke-width=".35">楼</text>
</svg>
</body></html>
